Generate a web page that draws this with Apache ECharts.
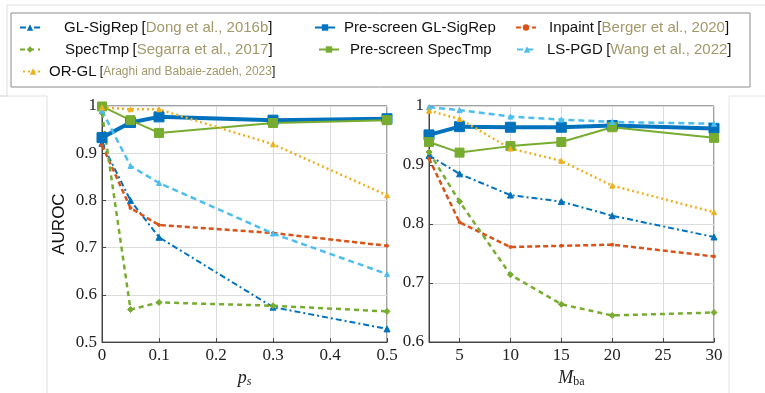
<!DOCTYPE html>
<html>
<head>
<meta charset="utf-8">
<script src="https://cdn.jsdelivr.net/npm/echarts@6/dist/echarts.min.js"></script>
<style>
html, body { margin: 0; padding: 0; background: #fff; }
#chart { width: 765px; height: 393px; }
</style>
</head>
<body>
<div id="chart"></div>
<script>

//x轴数据
var psX = [0, 0.05, 0.1, 0.3, 0.5];
var mX = [2, 5, 10, 15, 20, 30];

//左图 AUROC vs p_s
var glSigRepPs = [0.921, 0.800, 0.722, 0.574, 0.528];
var preGlSigRepPs = [0.933, 0.965, 0.977, 0.970, 0.973];
var inpaintPs = [0.917, 0.784, 0.748, 0.731, 0.704];
var specTmpPs = [0.985, 0.569, 0.584, 0.577, 0.565];
var preSpecTmpPs = [0.999, 0.970, 0.943, 0.964, 0.970];
var lsPgdPs = [0.990, 0.873, 0.837, 0.730, 0.644];
var orGlPs = [0.997, 0.993, 0.993, 0.919, 0.811];

//右图 AUROC vs M_ba
var glSigRepM = [0.916, 0.885, 0.849, 0.838, 0.814, 0.778];
var preGlSigRepM = [0.951, 0.965, 0.964, 0.964, 0.967, 0.962];
var inpaintM = [0.911, 0.803, 0.761, 0.763, 0.765, 0.745];
var specTmpM = [0.922, 0.838, 0.714, 0.664, 0.645, 0.650];
var preSpecTmpM = [0.939, 0.921, 0.932, 0.939, 0.964, 0.946];
var lsPgdM = [0.998, 0.993, 0.982, 0.977, 0.973, 0.970];
var orGlM = [0.992, 0.978, 0.928, 0.907, 0.865, 0.820];

//图例名称和引用
var legendNames = ['GL-SigRep', 'Pre-screen GL-SigRep', 'Inpaint', 'SpecTmp',
		'Pre-screen SpecTmp', 'LS-PGD', 'OR-GL'];
var legendCites = ['Dong et al., 2016b', '', 'Berger et al., 2020',
		'Segarra et al., 2017', '', 'Wang et al., 2022',
		'Araghi and Babaie-zadeh, 2023'];

//样式: 颜色, 线型, 线宽, 标记, 标记大小
var styles = {
	'GL-SigRep' : ['#0072BD', [6, 3, 2, 3], 2, 'triangle', 6],
	'Pre-screen GL-SigRep' : ['#0072BD', 'solid', 4, 'rect', 10],
	'Inpaint' : ['#D95319', [5, 3], 2.5, 'circle', 3],
	'SpecTmp' : ['#77AC30', [5, 4], 2.5, 'diamond', 6],
	'Pre-screen SpecTmp' : ['#77AC30', 'solid', 2, 'rect', 9],
	'LS-PGD' : ['#4DBEEE', [6, 4], 2.5, 'triangle', 5],
	'OR-GL' : ['#EDB120', [2, 3], 2.5, 'triangle', 5]
};

//图例位置: 图标left, 行中心y, 文字间距
var legendPos = [[19, 29, 19], [314, 29, 4], [515, 29, 8], [19, 51, 20],
		[318, 51, 6], [516, 51, 5], [22, 73, 1]];

function toPairs(xs, ys) {
	var out = [];
	for (var i = 0; i < xs.length; i++) {
		out.push([xs[i], ys[i]]);
	}
	return out;
}

function makeSeries(name, xs, ys, idx) {
	var s = styles[name];
	return {
		name : name,
		type : 'line',
		xAxisIndex : idx,
		yAxisIndex : idx,
		data : toPairs(xs, ys),
		symbol : s[3],
		symbolSize : s[4],
		showSymbol : true,
		animation : false,
		lineStyle : {
			color : s[0],
			type : s[1],
			width : s[2]
		},
		itemStyle : {
			color : s[0],
			borderColor : s[0]
		}
	};
}

function makeLegend(i) {
	var name = legendNames[i];
	var cite = legendCites[i];
	var p = legendPos[i];
	var small = (name == 'OR-GL');
	return {
		data : [ name ],
		left : p[0],
		top : p[1] - 9,
		padding : 0,
		itemWidth : 20,
		itemHeight : 8,
		selectedMode : false,
		formatter : function(n) {
			if (cite == '') {
				return '{n|' + n + '}';
			}
			if (small) {
				return '{n|' + n + '} {bs|[}{cs|' + cite + '}{bs|]}';
			}
			return '{n|' + n + '} {n|[}{c|' + cite + '}{n|]}';
		},
		textStyle : {
			padding : [ 0, 0, 0, p[2] ],
			rich : {
				n : {
					fontFamily : 'Liberation Sans',
					fontSize : 15,
					color : '#111'
				},
				c : {
					fontFamily : 'Liberation Sans',
					fontSize : 15,
					color : '#a39869'
				},
				bs : {
					fontFamily : 'Liberation Sans',
					fontSize : 12,
					color : '#111'
				},
				cs : {
					fontFamily : 'Liberation Sans',
					fontSize : 12,
					color : '#a39869'
				}
			}
		}
	};
}

var tickFont = {
	fontFamily : 'Liberation Serif',
	fontSize : 17,
	color : '#222'
};

function makeAxis(type, idx, min, max, interval, extra) {
	var ax = {
		type : 'value',
		gridIndex : idx,
		min : min,
		max : max,
		axisLine : {
			show : true,
			onZero : false,
			lineStyle : {
				color : '#444',
				width : 1
			}
		},
		axisTick : {
			show : true,
			inside : true,
			length : 4,
			lineStyle : {
				color : '#444'
			}
		},
		splitLine : {
			show : true,
			lineStyle : {
				color : '#dcdcdc',
				width : 1
			}
		},
		axisLabel : {
			margin : 5,
			fontFamily : tickFont.fontFamily,
			fontSize : tickFont.fontSize,
			color : tickFont.color
		}
	};
	if (interval != null) {
		ax.interval = interval;
	}
	for ( var k in extra) {
		ax[k] = extra[k];
	}
	return ax;
}

var chart = echarts.init(document.getElementById('chart'));

var series = [];
var leftYs = [glSigRepPs, preGlSigRepPs, inpaintPs, specTmpPs, preSpecTmpPs,
		lsPgdPs, orGlPs];
var rightYs = [glSigRepM, preGlSigRepM, inpaintM, specTmpM, preSpecTmpM,
		lsPgdM, orGlM];
for (var i = 0; i < legendNames.length; i++) {
	series.push(makeSeries(legendNames[i], psX, leftYs[i], 0));
}
for (var i = 0; i < legendNames.length; i++) {
	series.push(makeSeries(legendNames[i], mX, rightYs[i], 1));
}

var legends = [];
for (var i = 0; i < legendNames.length; i++) {
	legends.push(makeLegend(i));
}

var nameRich = {
	v : {
		fontFamily : 'Liberation Serif',
		fontStyle : 'italic',
		fontSize : 18,
		color : '#222'
	},
	sub : {
		fontFamily : 'Liberation Serif',
		fontStyle : 'italic',
		fontSize : 12,
		color : '#222',
		padding : [ 8, 0, 0, 0 ]
	},
	subr : {
		fontFamily : 'Liberation Serif',
		fontSize : 12,
		color : '#222',
		padding : [ 8, 0, 0, 0 ]
	}
};

var option = {
	backgroundColor : '#fff',
	animation : false,
	legend : legends,
	grid : [ {
		left : 102,
		top : 106,
		width : 285,
		height : 247,
		show : true,
		borderColor : '#444',
		borderWidth : 1,
		containLabel : false
	}, {
		left : 429,
		top : 106,
		width : 285,
		height : 247,
		show : true,
		borderColor : '#444',
		borderWidth : 1,
		containLabel : false
	} ],
	xAxis : [ makeAxis('x', 0, 0, 0.5, 0.1, {
		name : '{v|p}{sub|s}',
		nameLocation : 'middle',
		nameGap : 24,
		nameTextStyle : {
			rich : nameRich
		}
	}), makeAxis('x', 1, 2, 30, null, {
		splitNumber : 6,
		name : '{v|M}{subr|ba}',
		nameLocation : 'middle',
		nameGap : 26,
		nameTextStyle : {
			rich : nameRich
		}
	}) ],
	yAxis : [ makeAxis('y', 0, 0.5, 1, 0.1, {
		name : 'AUROC',
		nameLocation : 'middle',
		nameGap : 34,
		nameTextStyle : {
			fontFamily : 'Liberation Sans',
			fontSize : 17,
			color : '#111'
		}
	}), makeAxis('y', 1, 0.6, 1, 0.1, {}) ],
	graphic : [ {
		type : 'rect',
		z : -1,
		shape : {
			x : 11,
			y : 13,
			width : 739,
			height : 74
		},
		style : {
			fill : '#fff',
			stroke : '#8c8c8c',
			lineWidth : 1
		}
	}, {
		type : 'polyline',
		z : -2,
		shape : {
			points : [ [ 765, 5 ], [ 7, 5 ], [ 7, 96 ], [ 0, 96 ] ]
		},
		style : {
			fill : null,
			stroke : '#dedede',
			lineWidth : 1
		}
	}, {
		type : 'polyline',
		z : -2,
		shape : {
			points : [ [ 0, 96 ], [ 47, 96 ], [ 47, 393 ] ]
		},
		style : {
			fill : null,
			stroke : '#dedede',
			lineWidth : 1
		}
	}, {
		type : 'polyline',
		z : -2,
		shape : {
			points : [ [ 765, 96 ], [ 729, 96 ], [ 729, 393 ] ]
		},
		style : {
			fill : null,
			stroke : '#e6e6e6',
			lineWidth : 1
		}
	} ],
	series : series
};

//右图最小刻度2不显示标签
option.xAxis[1].axisLabel.showMinLabel = false;

chart.setOption(option);
</script>
</body>
</html>
